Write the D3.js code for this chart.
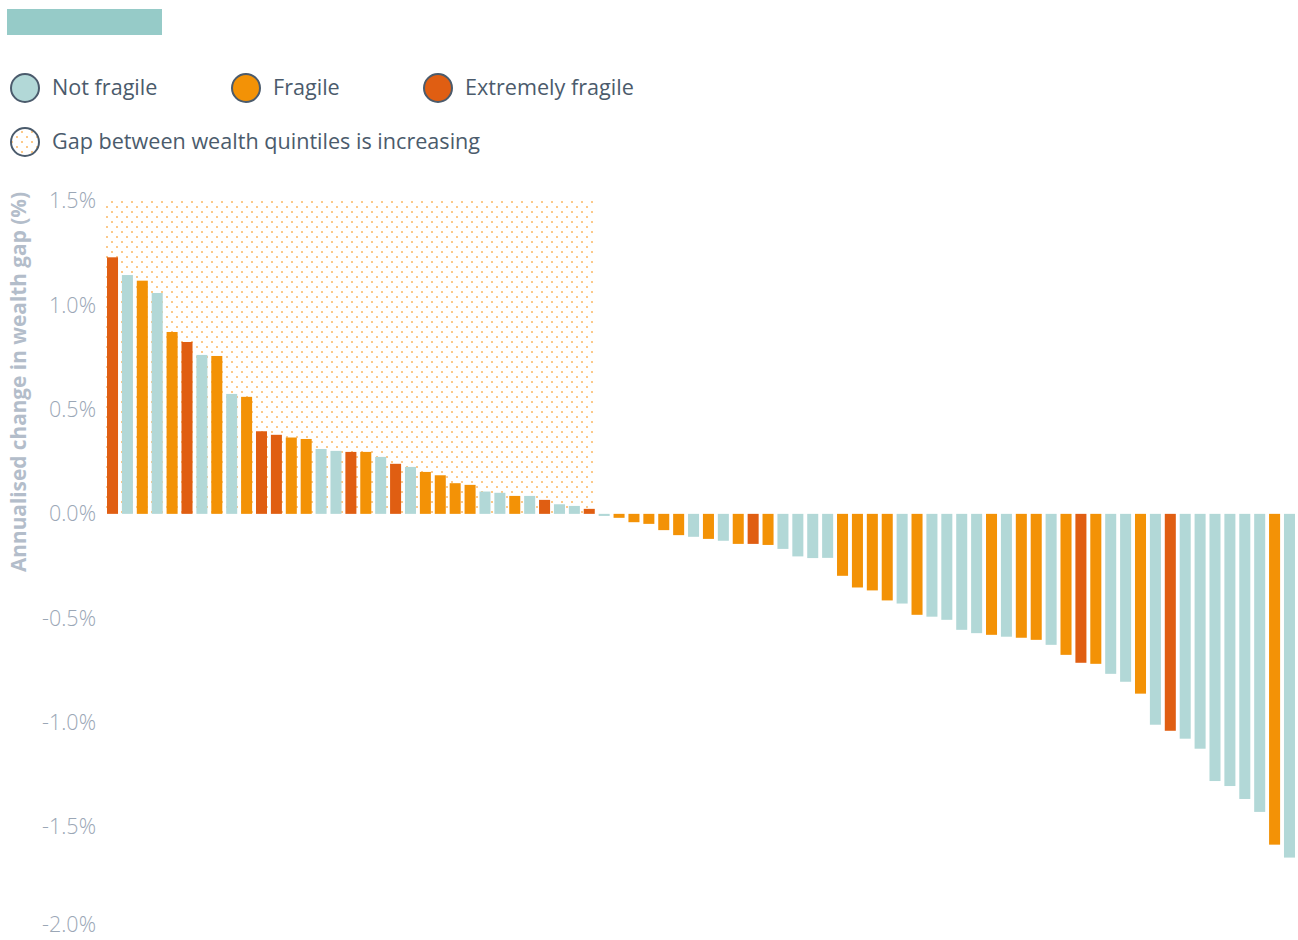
<!DOCTYPE html>
<html lang="en">
<head>
    <meta charset="UTF-8">
    <script src="https://cdn.jsdelivr.net/npm/d3@7/dist/d3.min.js"></script>
    <title>Wealth gap</title>
    <style>
        * { margin: 0; padding: 0; box-sizing: border-box; }
        body, html { width: 100%; height: 100%; background: #fff; }
        svg { display: block; font-family: "Open Sans", "Noto Sans", sans-serif; }
    </style>
</head>
<body>
    <svg id="chart" width="1298" height="940"></svg>
    <script type="text/javascript">
      // values, sorted as shown
      var values = [
        1.23, 1.145, 1.118, 1.059, 0.872, 0.824, 0.762, 0.757, 0.575, 0.561,
        0.396, 0.379, 0.366, 0.359, 0.311, 0.302, 0.297, 0.297, 0.273, 0.240,
        0.225, 0.201, 0.185, 0.147, 0.139, 0.107, 0.101, 0.086, 0.086, 0.067,
        0.046, 0.038, 0.024, -0.010, -0.019, -0.040, -0.048, -0.078, -0.102, -0.110,
        -0.120, -0.129, -0.144, -0.144, -0.149, -0.168, -0.204, -0.212, -0.211, -0.297,
        -0.353, -0.367, -0.415, -0.430, -0.484, -0.493, -0.508, -0.556, -0.572, -0.580,
        -0.589, -0.594, -0.604, -0.628, -0.676, -0.714, -0.719, -0.767, -0.805, -0.862,
        -1.011, -1.040, -1.078, -1.126, -1.281, -1.305, -1.367, -1.429, -1.586, -1.648
      ];
      // N = not fragile, F = fragile, E = extremely fragile
      var fragility = (
        'E N F N F E N F N F ' +
        'E E F F N N E F N E ' +
        'N F F F F N N F N E ' +
        'N N E N F F F F F N ' +
        'F N F E F N N N N F ' +
        'F F F N F N N N N F ' +
        'N F F N F E F N N F ' +
        'N E N N N N N N F N').trim().split(' ');

      var legendItems = [
        { key: 'N', label: 'Not fragile' },
        { key: 'F', label: 'Fragile' },
        { key: 'E', label: 'Extremely fragile' }
      ];
      var yTicks = [1.5, 1.0, 0.5, 0.0, -0.5, -1.0, -1.5, -2.0];

      var colors = { N: '#b2d8d7', F: '#f39206', E: '#e05e12' };
      var font = '"Open Sans", "Noto Sans", sans-serif';

      var svg = d3.select('#chart');

      var x = d3.scaleBand()
        .domain(d3.range(values.length))
        .range([107, 1295])
        .paddingInner(0.26)
        .paddingOuter(0);

      var y = d3.scaleLinear()
        .domain([-2, 1.5])
        .range([931, 201]);

      // dotted pattern for "gap increasing"
      var defs = svg.append('defs');
      var pat = defs.append('pattern')
        .attr('id', 'dots')
        .attr('patternUnits', 'userSpaceOnUse')
        .attr('width', 10)
        .attr('height', 10);
      pat.append('rect').attr('x', 1).attr('y', 1).attr('width', 2).attr('height', 2).attr('fill', '#fcc98a');
      pat.append('rect').attr('x', 6).attr('y', 6).attr('width', 2).attr('height', 2).attr('fill', '#fcc98a');

      // header block
      svg.append('rect')
        .attr('x', 7).attr('y', 9)
        .attr('width', 155).attr('height', 26)
        .attr('fill', '#96cbc8');

      // legend
      var legendX = [25, 246, 438];
      legendItems.forEach(function (d, i) {
        svg.append('circle')
          .attr('cx', legendX[i]).attr('cy', 88).attr('r', 14)
          .attr('fill', colors[d.key])
          .attr('stroke', '#4b5b6c').attr('stroke-width', 2);
        svg.append('text')
          .attr('x', legendX[i] + 27).attr('y', 95)
          .attr('font-size', 21.6)
          .attr('fill', '#4b5b6c')
          .text(d.label);
      });
      svg.append('circle')
        .attr('cx', 25).attr('cy', 142).attr('r', 14)
        .attr('fill', 'url(#dots)')
        .attr('stroke', '#4b5b6c').attr('stroke-width', 2);
      svg.append('text')
        .attr('x', 52).attr('y', 149)
        .attr('font-size', 21.6)
        .attr('fill', '#4b5b6c')
        .text('Gap between wealth quintiles is increasing');

      // shaded area behind the increasing bars
      var positive = values.filter(function (v) { return v > 0; }).length;
      svg.append('rect')
        .attr('x', x(0) - 3)
        .attr('y', y(1.5))
        .attr('width', x(positive - 1) + x.bandwidth() + 1 - (x(0) - 3))
        .attr('height', y(0) - y(1.5))
        .attr('fill', 'url(#dots)');

      // y axis
      var yAxis = d3.axisLeft(y)
        .tickValues(yTicks)
        .tickSize(0)
        .tickPadding(0)
        .tickFormat(function (d) { return d3.format('.1f')(d).replace('\u2212', '-') + '%'; });
      var gy = svg.append('g')
        .attr('transform', 'translate(96,0)')
        .call(yAxis);
      gy.select('.domain').remove();
      gy.selectAll('text')
        .attr('font-size', 21.5)
        .attr('font-weight', 300)
        .attr('font-family', font)
        .attr('fill', '#9ba7b6');
      // keep the lowest label inside the frame
      gy.selectAll('.tick').filter(function (d) { return d === -2; })
        .select('text').attr('dy', '0.02em');

      svg.append('text')
        .attr('transform', 'translate(26,' + 382 + ') rotate(-90)')
        .attr('text-anchor', 'middle')
        .attr('font-size', 20.8)
        .attr('font-weight', 'bold')
        .attr('fill', '#b3bdca')
        .text('Annualised change in wealth gap (%)');

      // bars
      svg.append('g')
        .selectAll('rect')
        .data(values)
        .join('rect')
        .attr('x', function (d, i) { return x(i); })
        .attr('y', function (d) { return y(Math.max(0, d)); })
        .attr('width', x.bandwidth())
        .attr('height', function (d) { return Math.abs(y(d) - y(0)); })
        .attr('fill', function (d, i) { return colors[fragility[i]]; });
    </script>
</body>
</html>
